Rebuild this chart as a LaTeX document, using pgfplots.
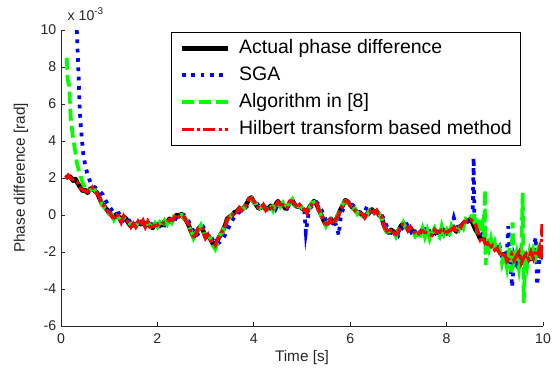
\documentclass[border=0pt]{standalone}
\usepackage{fontspec}
\setmainfont{Liberation Sans}
\usepackage{pgfplots}
\pgfplotsset{compat=1.18}
\begin{document}
\begin{tikzpicture}
\useasboundingbox (-45.75pt,-34.5pt) rectangle (374.25pt,244.5pt);
\begin{axis}[
  name=ax,
  at={(0pt,0pt)}, anchor=south west,
  scale only axis, width=361.5pt, height=222pt,
  xmin=0, xmax=10, ymin=-6, ymax=10,
  xtick={0,2,...,10}, ytick={-6,-4,...,10},
  axis lines=left, axis line style={-, line width=0.75pt, black!85},
  tick align=inside, major tick length=3pt, tick style={line width=0.75pt, black!85},
  /pgf/number format/assume math mode=true,
  tick label style={font=\fontsize{10.6}{12}\selectfont, text=black!85},
  xticklabel style={yshift=-2.5pt},
  xlabel={Time [s]}, ylabel={Phase difference [rad]},
  every axis x label/.style={at={(axis description cs:0.5,-0.105)}, anchor=center, font=\fontsize{11.5}{13}\selectfont, text=black!85},
  every axis y label/.style={at={(axis description cs:-0.083,0.5)}, anchor=center, rotate=90, font=\fontsize{11.5}{13}\selectfont, text=black!85},
  legend style={at={(axis description cs:0.954,0.993)}, anchor=north east, draw=black, line width=0.75pt, fill=white,
    font=\fontsize{14.6}{17}\selectfont, inner xsep=6.4pt, inner ysep=4.8pt, row sep=6.25pt, column sep=6.75pt,
    nodes={inner sep=0pt, text height=11pt, text depth=3pt}},
  legend cell align=left,
  legend image code/.code={\draw[#1] (0pt,0pt) -- (34.5pt,0pt);},
]
% Actual phase difference
\addplot[black, line width=3.4pt, line join=round] coordinates {
(0.10,2.00)(0.15,2.10)(0.20,2.05)(0.25,1.85)(0.30,1.95)(0.35,1.70)(0.40,1.50)(0.45,1.30)(0.50,1.35)(0.55,1.20)
(0.60,1.40)(0.65,1.45)(0.70,1.30)(0.75,1.20)(0.80,0.90)(0.85,0.60)(0.90,0.45)(0.95,0.30)(1.00,0.10)(1.05,0.00)
(1.10,-0.20)(1.15,0.05)(1.20,-0.10)(1.25,-0.35)(1.30,-0.10)(1.35,-0.20)(1.40,-0.45)(1.45,-0.60)(1.50,-0.50)(1.55,-0.60)
(1.60,-0.40)(1.65,-0.50)(1.70,-0.35)(1.75,-0.60)(1.80,-0.40)(1.85,-0.60)(1.90,-0.70)(1.95,-0.50)(2.00,-0.60)(2.05,-0.45)
(2.10,-0.55)(2.15,-0.35)(2.20,-0.45)(2.25,-0.20)(2.30,-0.35)(2.35,-0.10)(2.40,0.00)(2.45,-0.05)(2.50,0.05)(2.55,-0.15)
(2.60,-0.30)(2.65,-0.55)(2.70,-0.90)(2.75,-1.20)(2.80,-1.00)(2.85,-0.75)(2.90,-0.60)(2.95,-0.85)(3.00,-1.20)(3.05,-1.10)
(3.10,-1.30)(3.15,-1.55)(3.20,-1.60)(3.25,-1.35)(3.30,-1.10)(3.35,-0.90)(3.40,-0.60)(3.45,-0.20)(3.50,-0.10)(3.55,0.00)
(3.60,0.15)(3.65,0.20)(3.70,0.35)(3.75,0.30)(3.80,0.40)(3.85,0.60)(3.90,0.85)(3.95,0.95)(4.00,0.70)(4.05,0.55)
(4.10,0.35)(4.15,0.40)(4.20,0.50)(4.25,0.30)(4.30,0.35)(4.35,0.50)(4.40,0.30)(4.45,0.55)(4.50,0.75)(4.55,0.50)
(4.60,0.60)(4.65,0.35)(4.70,0.45)(4.75,0.70)(4.80,0.80)(4.85,0.55)(4.90,0.45)(4.95,0.50)(5.00,0.35)(5.05,0.25)
(5.10,0.15)(5.15,0.40)(5.20,0.60)(5.25,0.75)(5.30,0.60)(5.35,0.30)(5.40,0.00)(5.45,-0.30)(5.50,-0.55)(5.55,-0.40)
(5.60,-0.20)(5.65,-0.45)(5.70,-0.30)(5.75,0.00)(5.80,0.30)(5.85,0.55)(5.90,0.80)(5.95,0.70)(6.00,0.55)(6.05,0.40)
(6.10,0.30)(6.15,0.10)(6.20,0.15)(6.25,0.00)(6.30,-0.10)(6.35,0.05)(6.40,0.20)(6.45,0.30)(6.50,0.15)(6.55,0.20)
(6.60,0.00)(6.65,-0.10)(6.70,-0.55)(6.75,-0.85)(6.80,-0.95)(6.85,-0.80)(6.90,-0.90)(6.95,-1.10)(7.00,-0.85)(7.05,-0.60)
(7.10,-0.45)(7.15,-0.60)(7.20,-0.80)(7.25,-0.70)(7.30,-0.90)(7.35,-1.00)(7.40,-1.05)(7.45,-0.95)(7.50,-0.80)(7.55,-1.00)
(7.60,-0.90)(7.65,-1.10)(7.70,-1.05)(7.75,-0.85)(7.80,-0.90)(7.85,-1.00)(7.90,-0.75)(7.95,-0.85)(8.00,-1.00)(8.05,-0.90)
(8.10,-0.75)(8.15,-0.70)(8.20,-0.90)(8.25,-0.65)(8.30,-0.60)(8.35,-0.45)(8.40,-0.30)(8.45,-0.35)(8.50,-0.20)(8.55,-0.50)
(8.60,-0.80)(8.65,-1.00)(8.70,-1.30)(8.75,-1.20)(8.80,-1.40)(8.85,-1.50)(8.90,-1.60)(8.95,-1.55)(9.00,-1.70)(9.05,-1.75)
(9.10,-2.00)(9.15,-2.20)(9.20,-2.10)(9.25,-2.30)(9.30,-2.50)(9.35,-2.20)(9.40,-2.60)(9.45,-2.30)(9.50,-2.10)(9.55,-2.50)
(9.60,-2.40)(9.65,-2.20)(9.70,-2.45)(9.75,-2.10)(9.80,-2.30)(9.85,-1.90)(9.90,-2.20)(9.95,-2.00)(10.00,-2.30)
};
\addlegendentry{Actual phase difference}
% SGA
\addplot[blue, line width=2.8pt, dash pattern=on 2.8pt off 4.2pt, line cap=butt] coordinates {
(0.29,11.0)(0.33,9.9)(0.35,8.5)(0.37,7.2)(0.39,5.6)(0.42,4.5)(0.46,3.35)(0.50,2.7)(0.54,2.3)(0.59,1.9)
(0.64,1.6)(0.70,1.5)(0.75,1.4)(0.80,1.3)(0.87,1.1)(0.92,0.8)(0.97,0.6)(1.02,0.4)(1.06,0.25)
(1.10,0.10)(1.15,0.05)(1.20,0.10)(1.25,-0.05)(1.30,-0.25)(1.35,-0.05)(1.40,-0.25)(1.45,-0.40)(1.50,-0.60)(1.55,-0.50)
(1.60,-0.60)(1.65,-0.40)(1.70,-0.55)(1.75,-0.35)(1.80,-0.60)(1.85,-0.40)(1.90,-0.60)(1.95,-0.65)(2.00,-0.50)(2.05,-0.60)
(2.10,-0.45)(2.15,-0.55)(2.20,-0.35)(2.25,-0.45)(2.30,-0.20)(2.35,-0.35)(2.40,-0.10)(2.45,0.00)(2.50,-0.05)(2.55,0.00)
(2.60,-0.20)(2.65,-0.35)(2.70,-0.60)(2.75,-0.90)(2.80,-1.15)(2.85,-1.00)(2.90,-0.75)(2.95,-0.65)(3.00,-0.90)(3.05,-1.20)
(3.10,-1.10)(3.15,-1.35)(3.20,-1.55)(3.25,-1.55)(3.30,-1.45)(3.35,-1.30)(3.40,-1.10)(3.45,-0.85)(3.50,-0.55)(3.55,-0.30)
(3.60,-0.10)(3.65,0.05)(3.70,0.15)(3.75,0.30)(3.80,0.30)(3.85,0.45)(3.90,0.60)(3.95,0.85)(4.00,0.90)(4.05,0.70)
(4.10,0.50)(4.15,0.35)(4.20,0.40)(4.25,0.50)(4.30,0.30)(4.35,0.35)(4.40,0.50)(4.45,0.30)(4.50,0.55)(4.55,0.70)
(4.60,0.50)(4.65,0.60)(4.70,0.35)(4.75,0.45)(4.80,0.70)(4.85,0.75)(4.90,0.55)(4.95,0.45)(5.00,0.45)(5.05,0.20)
(5.08,-0.95)(5.12,-0.20)(5.15,0.35)(5.20,0.45)(5.25,0.65)(5.30,0.70)(5.35,0.55)(5.40,0.30)(5.45,0.00)(5.50,-0.30)
(5.55,-0.50)(5.60,-0.40)(5.65,-0.20)(5.70,-0.50)(5.73,-0.70)(5.76,-1.10)(5.80,-0.20)(5.85,0.30)(5.90,0.55)(5.95,0.80)
(6.00,0.65)(6.05,0.55)(6.10,0.40)(6.15,0.25)(6.20,0.10)(6.25,0.15)(6.30,0.20)(6.35,0.45)(6.40,0.10)(6.45,0.25)
(6.50,0.30)(6.55,0.15)(6.60,0.20)(6.65,0.00)(6.70,-0.20)(6.75,-0.55)(6.80,-0.85)(6.85,-0.95)(6.90,-0.80)(6.95,-0.90)
(7.00,-1.10)(7.05,-0.85)(7.10,-0.60)(7.15,-0.40)(7.20,-0.60)(7.25,-0.85)(7.30,-1.10)(7.35,-0.90)(7.40,-1.00)(7.45,-1.05)
(7.50,-0.95)(7.55,-0.80)(7.60,-1.00)(7.65,-0.90)(7.70,-1.15)(7.75,-1.05)(7.80,-0.85)(7.85,-0.90)(7.90,-1.00)(7.95,-0.75)
(8.00,-0.85)(8.05,-1.00)(8.10,-0.70)(8.15,-0.15)(8.20,-0.60)(8.25,-0.90)(8.30,-0.65)(8.35,-0.60)(8.40,-0.45)(8.45,-0.30)
(8.50,-0.35)(8.54,-0.20)(8.56,3.10)(8.575,0.00)(8.60,-0.50)(8.65,-0.90)(8.70,-1.10)(8.75,-1.00)(8.80,-1.30)(8.85,-1.60)
(8.90,-1.50)(8.95,-1.80)(9.00,-1.60)(9.05,-1.90)(9.10,-1.70)(9.15,-2.20)(9.20,-1.90)(9.25,-2.10)(9.28,-0.60)(9.32,-2.50)
(9.36,-3.90)(9.40,-2.20)(9.45,-2.60)(9.50,-2.20)(9.55,-2.70)(9.60,-2.50)(9.65,-2.00)(9.70,-2.60)(9.75,-2.40)(9.80,-1.80)
(9.85,-1.20)(9.88,-3.80)(9.92,-2.50)(9.96,-1.70)(10.00,-2.40)
};
\addlegendentry{SGA}
% Algorithm in [8]
\addplot[green, line width=2.8pt, dash pattern=on 9pt off 3.8pt] coordinates {
(0.12,8.5)(0.14,7.3)(0.17,7.0)(0.19,5.8)(0.21,5.0)(0.23,4.6)(0.26,4.0)(0.28,3.7)(0.31,3.2)(0.33,2.8)
(0.36,2.5)(0.39,2.3)(0.42,2.0)(0.45,1.75)
(0.50,1.45)(0.55,1.30)(0.60,1.35)(0.65,1.40)(0.70,1.35)(0.75,1.10)(0.80,0.95)(0.85,0.55)(0.90,0.40)(0.95,0.35)
(1.00,0.05)(1.05,0.05)(1.10,-0.25)(1.15,0.00)(1.20,-0.15)(1.25,-0.30)(1.30,-0.15)(1.35,-0.25)(1.40,-0.40)(1.45,-0.55)
(1.50,-0.55)(1.55,-0.55)(1.60,-0.45)(1.65,-0.45)(1.70,-0.40)(1.75,-0.55)(1.80,-0.45)(1.85,-0.55)(1.90,-0.75)(1.95,-0.45)
(2.00,-0.65)(2.05,-0.40)(2.10,-0.60)(2.15,-0.30)(2.20,-0.50)(2.25,-0.15)(2.30,-0.40)(2.35,-0.05)(2.40,-0.05)(2.45,0.00)
(2.50,0.00)(2.55,-0.20)(2.60,-0.25)(2.65,-0.60)(2.70,-0.85)(2.75,-1.25)(2.80,-0.95)(2.85,-0.80)(2.90,-0.55)(2.95,-0.90)
(3.00,-1.15)(3.05,-1.15)(3.10,-1.25)(3.15,-1.65)(3.20,-1.85)(3.25,-1.45)(3.30,-1.05)(3.35,-0.95)(3.40,-0.55)(3.45,-0.30)
(3.50,-0.15)(3.55,0.05)(3.60,0.10)(3.65,0.25)(3.70,0.30)(3.75,0.35)(3.80,0.35)(3.85,0.65)(3.90,0.80)(3.95,0.90)
(4.00,0.65)(4.05,0.60)(4.10,0.30)(4.15,0.45)(4.20,0.45)(4.25,0.35)(4.30,0.30)(4.35,0.55)(4.40,0.25)(4.45,0.60)
(4.50,0.70)(4.55,0.45)(4.60,0.65)(4.65,0.30)(4.70,0.50)(4.75,0.65)(4.80,0.85)(4.85,0.50)(4.90,0.50)(4.95,0.45)
(5.00,0.40)(5.05,0.20)(5.10,0.20)(5.15,0.35)(5.20,0.65)(5.25,0.70)(5.30,0.55)(5.35,0.35)(5.40,-0.05)(5.45,-0.25)
(5.50,-0.60)(5.55,-0.35)(5.60,-0.25)(5.65,-0.40)(5.70,-0.35)(5.75,0.05)(5.80,0.25)(5.85,0.60)(5.90,0.75)(5.95,0.65)
(6.00,0.60)(6.05,0.35)(6.10,0.35)(6.15,0.05)(6.20,0.20)(6.25,-0.05)(6.30,-0.05)(6.35,0.00)(6.40,0.25)(6.45,0.25)
(6.50,0.20)(6.55,0.15)(6.60,0.05)(6.65,-0.15)(6.70,-0.50)(6.75,-0.90)(6.80,-0.90)(6.85,-0.85)(6.90,-0.85)(6.95,-1.15)
(7.00,-0.80)(7.05,-0.65)(7.10,-0.40)(7.15,-0.70)(7.20,-0.75)(7.25,-0.80)(7.30,-0.85)(7.35,-1.15)(7.40,-1.00)(7.45,-1.10)
(7.50,-0.70)(7.55,-1.20)(7.60,-0.80)(7.65,-1.30)(7.70,-0.95)(7.75,-0.70)(7.80,-1.05)(7.85,-1.20)(7.90,-0.60)(7.95,-1.05)
(8.00,-0.80)(8.05,-1.20)(8.10,-0.60)(8.15,-0.90)(8.20,-0.75)(8.25,-0.85)(8.30,-0.45)(8.35,-0.70)(8.40,-0.20)(8.45,-0.25)
(8.50,-0.10)(8.55,-0.30)(8.58,0.10)(8.62,-0.60)(8.66,-0.20)(8.70,-1.00)(8.74,-0.50)(8.78,-1.20)(8.80,1.35)(8.81,-2.70)
(8.84,-1.20)(8.88,-1.80)(8.92,-1.30)(8.96,-1.90)(9.00,-1.50)(9.05,-2.10)(9.10,-1.80)(9.15,-2.60)(9.20,-2.00)(9.25,-2.80)
(9.30,-1.70)(9.34,-3.10)(9.37,-0.40)(9.40,-2.50)(9.45,-2.00)(9.50,-2.90)(9.55,-1.80)(9.58,1.20)(9.60,-4.75)(9.63,-2.20)
(9.67,-2.80)(9.72,-2.00)(9.76,-2.50)(9.80,-1.90)(9.85,-2.30)(9.90,-1.80)(9.95,-2.20)(10.00,-2.00)
};
\addlegendentry{Algorithm in [8]}
% Hilbert transform based method
\addplot[red, line width=2.5pt, dash pattern=on 9pt off 2.4pt on 2.4pt off 2.4pt] coordinates {
(0.10,1.95)(0.15,2.15)(0.20,2.00)(0.25,1.90)(0.30,1.85)(0.35,1.75)(0.40,1.45)(0.45,1.35)(0.50,1.30)(0.55,1.25)
(0.60,1.35)(0.65,1.50)(0.70,1.25)(0.75,1.15)(0.80,0.95)(0.85,0.55)(0.90,0.50)(0.95,0.25)(1.00,0.15)(1.05,-0.05)
(1.10,-0.15)(1.15,0.00)(1.20,-0.05)(1.25,-0.40)(1.30,-0.05)(1.35,-0.25)(1.40,-0.40)(1.45,-0.65)(1.50,-0.45)(1.55,-0.65)
(1.60,-0.35)(1.65,-0.55)(1.70,-0.30)(1.75,-0.65)(1.80,-0.35)(1.85,-0.65)(1.90,-0.65)(1.95,-0.55)(2.00,-0.55)(2.05,-0.50)
(2.10,-0.50)(2.15,-0.40)(2.20,-0.40)(2.25,-0.25)(2.30,-0.30)(2.35,-0.15)(2.40,0.05)(2.45,-0.10)(2.50,0.00)(2.55,-0.10)
(2.60,-0.35)(2.65,-0.50)(2.70,-0.95)(2.75,-1.15)(2.80,-1.05)(2.85,-0.70)(2.90,-0.65)(2.95,-0.80)(3.00,-1.25)(3.05,-1.05)
(3.10,-1.35)(3.15,-1.50)(3.20,-1.65)(3.25,-1.30)(3.30,-1.15)(3.35,-0.85)(3.40,-0.65)(3.45,-0.25)(3.50,-0.05)(3.55,-0.05)
(3.60,0.20)(3.65,0.15)(3.70,0.40)(3.75,0.25)(3.80,0.45)(3.85,0.55)(3.90,0.90)(3.95,0.90)(4.00,0.75)(4.05,0.50)
(4.10,0.40)(4.15,0.35)(4.20,0.55)(4.25,0.25)(4.30,0.40)(4.35,0.45)(4.40,0.35)(4.45,0.50)(4.50,0.70)(4.55,0.55)
(4.60,0.55)(4.65,0.40)(4.70,0.40)(4.75,0.75)(4.80,0.75)(4.85,0.60)(4.90,0.40)(4.95,0.55)(5.00,0.30)(5.05,0.30)
(5.10,0.10)(5.15,0.45)(5.20,0.55)(5.25,0.70)(5.30,0.65)(5.35,0.25)(5.40,0.05)(5.45,-0.35)(5.50,-0.50)(5.55,-0.45)
(5.60,-0.15)(5.65,-0.50)(5.70,-0.25)(5.75,-0.05)(5.80,0.35)(5.85,0.50)(5.90,0.75)(5.95,0.75)(6.00,0.50)(6.05,0.45)
(6.10,0.25)(6.15,0.15)(6.20,0.10)(6.25,0.05)(6.30,-0.15)(6.35,0.10)(6.40,0.15)(6.45,0.35)(6.50,0.10)(6.55,0.25)
(6.60,-0.05)(6.65,-0.05)(6.70,-0.60)(6.75,-0.80)(6.80,-1.00)(6.85,-0.75)(6.90,-0.95)(6.95,-1.05)(7.00,-0.90)(7.05,-0.55)
(7.10,-0.50)(7.15,-0.55)(7.20,-0.85)(7.25,-0.65)(7.30,-0.95)(7.35,-0.95)(7.40,-1.10)(7.45,-0.90)(7.50,-0.85)(7.55,-0.95)
(7.60,-0.95)(7.65,-1.05)(7.70,-1.10)(7.75,-0.80)(7.80,-0.95)(7.85,-0.95)(7.90,-0.80)(7.95,-0.80)(8.00,-1.05)(8.05,-0.85)
(8.10,-0.80)(8.15,-0.65)(8.20,-0.95)(8.25,-0.60)(8.30,-0.65)(8.35,-0.40)(8.40,-0.35)(8.45,-0.30)(8.50,-0.25)(8.55,-0.35)
(8.60,-0.50)(8.65,-0.90)(8.70,-1.35)(8.75,-1.20)(8.80,-1.55)(8.85,-1.50)(8.90,-1.80)(8.95,-1.65)(9.00,-1.90)(9.05,-1.80)
(9.10,-2.05)(9.15,-2.25)(9.20,-2.00)(9.25,-2.50)(9.30,-2.35)(9.35,-2.10)(9.40,-2.45)(9.45,-2.20)(9.50,-2.00)(9.55,-2.60)
(9.60,-2.30)(9.65,-2.10)(9.70,-2.40)(9.75,-2.00)(9.80,-2.35)(9.85,-1.90)(9.90,-2.10)(9.93,-1.80)(9.96,-2.40)(9.98,-0.50)
(10.00,-1.20)
};
\addlegendentry{Hilbert transform based method}
\end{axis}
\node[anchor=base west, font=\fontsize{10.6}{12}\selectfont, text=black!85, xshift=1.5pt, yshift=7.5pt] at (ax.north west) {x 10\textsuperscript{-3}};
\end{tikzpicture}
\end{document}
